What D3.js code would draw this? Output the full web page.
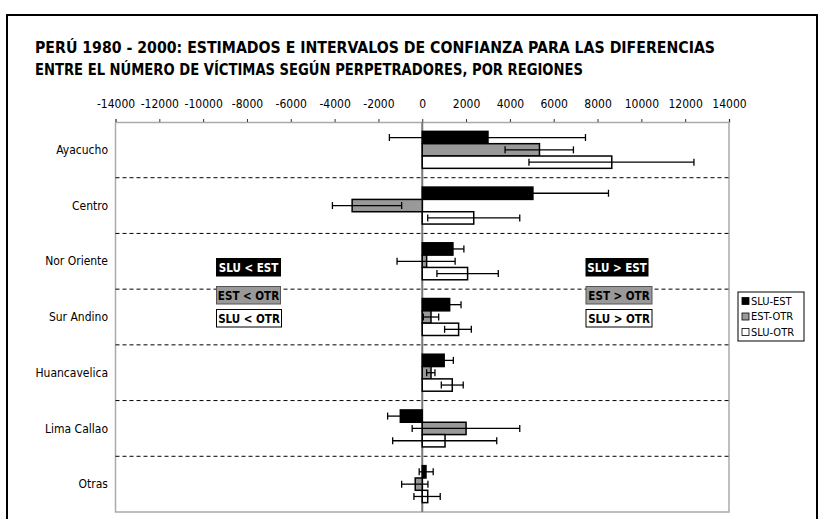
<!DOCTYPE html>
<html>
<head>
<meta charset="utf-8">
<script src="https://cdn.jsdelivr.net/npm/d3@7.9.0/dist/d3.min.js"></script>
<style>
  body { margin: 0; background: #fff; }
  svg { display: block; font-family: "DejaVu Sans Condensed", "DejaVu Sans", sans-serif; }
</style>
</head>
<body>
<svg id="chart" width="822" height="519"></svg>
<script>
const regions = ['Ayacucho', 'Centro', 'Nor Oriente', 'Sur Andino', 'Huancavelica', 'Lima Callao', 'Otras'];
const series = ['SLU-EST', 'EST-OTR', 'SLU-OTR'];

// estimates and interval bounds, one array per series
const sluEst   = [3000, 5050, 1400, 1250, 1000, -1000, 170];
const sluEstLo = [-1500, 1600, 900, 700, 550, -1580, -140];
const sluEstHi = [7450, 8500, 1900, 1770, 1420, -430, 500];

const estOtr   = [5350, -3200, 200, 400, 400, 2000, -320];
const estOtrLo = [3780, -4100, -1150, 50, 200, -460, -940];
const estOtrHi = [6900, -940, 1500, 750, 580, 4450, 260];

const sluOtr   = [8650, 2350, 2070, 1660, 1370, 1040, 250];
const sluOtrLo = [4870, 250, 670, 1020, 870, -1350, -380];
const sluOtrHi = [12400, 4450, 3470, 2240, 1870, 3400, 820];

const xTicks = [-14000, -12000, -10000, -8000, -6000, -4000, -2000, 0, 2000, 4000, 6000, 8000, 10000, 12000, 14000];

const leftNotes = ['SLU < EST', 'EST < OTR', 'SLU < OTR'];
const rightNotes = ['SLU > EST', 'EST > OTR', 'SLU > OTR'];

const titleLines = [
  'PERÚ 1980 - 2000: ESTIMADOS E INTERVALOS DE CONFIANZA PARA LAS DIFERENCIAS',
  'ENTRE EL NÚMERO DE VÍCTIMAS SEGÚN PERPETRADORES, POR REGIONES'
];

const fills = { 'SLU-EST': '#000', 'EST-OTR': '#999', 'SLU-OTR': '#fff' };

const rows = [];
regions.forEach((r, i) => {
  rows.push({ region: r, key: 'SLU-EST', v: sluEst[i], lo: sluEstLo[i], hi: sluEstHi[i] });
  rows.push({ region: r, key: 'EST-OTR', v: estOtr[i], lo: estOtrLo[i], hi: estOtrHi[i] });
  rows.push({ region: r, key: 'SLU-OTR', v: sluOtr[i], lo: sluOtrLo[i], hi: sluOtrHi[i] });
});

const svg = d3.select('#chart');
const plotL = 115.5, plotR = 729, plotT = 122, plotB = 512;

// outer frame
svg.append('rect')
  .attr('x', 7).attr('y', 15).attr('width', 810).attr('height', 520)
  .attr('fill', 'none').attr('stroke', '#000').attr('stroke-width', 2);

// title
svg.selectAll('.title')
  .data(titleLines)
  .join('text')
  .attr('class', 'title')
  .attr('x', 35)
  .attr('y', (d, i) => 53 + i * 22)
  .attr('font-size', 15)
  .attr('font-weight', 'bold')
  .attr('textLength', (d, i) => i === 0 ? 680 : 548)
  .attr('lengthAdjust', 'spacingAndGlyphs')
  .text(d => d);

const x = d3.scaleLinear().domain([-14000, 14000]).range([plotL, plotR]);
const y = d3.scaleBand().domain(regions).range([plotT, plotB]);
const ySub = d3.scaleBand().domain(series).range([0, y.bandwidth()]).paddingOuter(0.76);

// plot frame (left, right, bottom)
svg.append('path')
  .attr('d', `M${plotL},${plotT}V${plotB}H${plotR}V${plotT}`)
  .attr('fill', 'none').attr('stroke', '#aaa').attr('stroke-width', 1.5);

// dashed separators
svg.selectAll('.sep')
  .data(regions.slice(1))
  .join('line')
  .attr('class', 'sep')
  .attr('x1', plotL).attr('x2', plotR)
  .attr('y1', d => y(d)).attr('y2', d => y(d))
  .attr('stroke', '#000').attr('stroke-width', 1)
  .attr('stroke-dasharray', '4,3');

// top axis
const axis = svg.append('g')
  .attr('transform', `translate(0,${plotT})`)
  .call(d3.axisTop(x).tickValues(xTicks).tickSize(3).tickSizeOuter(3).tickPadding(11).tickFormat(d => d));
axis.select('.domain').attr('stroke', '#aaa').attr('stroke-width', 1.5);
axis.selectAll('.tick line').attr('stroke', '#333');
axis.selectAll('.tick text').attr('font-size', 12).attr('fill', '#000')
  .attr('font-family', '"DejaVu Sans Condensed", "DejaVu Sans", sans-serif');

// zero line
svg.append('line')
  .attr('x1', x(0)).attr('x2', x(0)).attr('y1', plotT).attr('y2', plotB)
  .attr('stroke', '#777').attr('stroke-width', 2);

// region labels
svg.selectAll('.region')
  .data(regions)
  .join('text')
  .attr('class', 'region')
  .attr('x', 108)
  .attr('y', d => y(d) + y.bandwidth() / 2)
  .attr('dy', '0.35em')
  .attr('text-anchor', 'end')
  .attr('font-size', 12)
  .text(d => d);

// bars
svg.selectAll('.bar')
  .data(rows)
  .join('rect')
  .attr('class', 'bar')
  .attr('x', d => x(Math.min(0, d.v)))
  .attr('width', d => Math.abs(x(d.v) - x(0)))
  .attr('y', d => y(d.region) + ySub(d.key))
  .attr('height', ySub.bandwidth())
  .attr('fill', d => fills[d.key])
  .attr('stroke', '#000').attr('stroke-width', 1.5);

// error bars
const err = svg.selectAll('.err')
  .data(rows)
  .join('g')
  .attr('class', 'err')
  .attr('transform', d => `translate(0,${y(d.region) + ySub(d.key) + ySub.bandwidth() / 2})`)
  .attr('stroke', '#000').attr('stroke-width', 1.3);
err.append('line').attr('x1', d => x(d.lo)).attr('x2', d => x(d.hi));
err.append('line').attr('x1', d => x(d.lo)).attr('x2', d => x(d.lo)).attr('y1', -3.5).attr('y2', 3.5);
err.append('line').attr('x1', d => x(d.hi)).attr('x2', d => x(d.hi)).attr('y1', -3.5).attr('y2', 3.5);

// annotation boxes
const noteFill = ['#000', '#999', '#fff'];
const noteText = ['#fff', '#000', '#000'];
const noteY = [258.5, 286.5, 309.5];
function notes(list, x0, widths) {
  const g = svg.selectAll(null).data(list).join('g')
    .attr('transform', (d, i) => `translate(${x0},${noteY[i]})`);
  g.append('rect')
    .attr('width', (d, i) => widths[i]).attr('height', 17.5)
    .attr('fill', (d, i) => noteFill[i])
    .attr('stroke', (d, i) => i === 1 ? '#555' : '#000').attr('stroke-width', 1);
  g.append('text')
    .attr('x', (d, i) => widths[i] / 2).attr('y', 9)
    .attr('dy', '0.35em').attr('text-anchor', 'middle')
    .attr('font-size', 11.5).attr('font-weight', 'bold')
    .attr('fill', (d, i) => noteText[i])
    .text(d => d);
}
notes(leftNotes, 216.5, [64, 64, 65]);
notes(rightNotes, 586, [62, 66, 66]);

// legend
const lg = svg.append('g').attr('transform', 'translate(738,292)');
lg.append('rect').attr('width', 66).attr('height', 49)
  .attr('fill', '#fff').attr('stroke', '#000').attr('stroke-width', 1);
const li = lg.selectAll('.li').data(series).join('g')
  .attr('class', 'li')
  .attr('transform', (d, i) => `translate(4,${9 + i * 15.5})`);
li.append('rect').attr('x', 0).attr('y', -3.5).attr('width', 7).attr('height', 7)
  .attr('fill', d => fills[d]).attr('stroke', '#000').attr('stroke-width', 0.8);
li.append('text').attr('x', 9).attr('dy', '0.35em').attr('font-size', 11).text(d => d);
</script>
</body>
</html>
